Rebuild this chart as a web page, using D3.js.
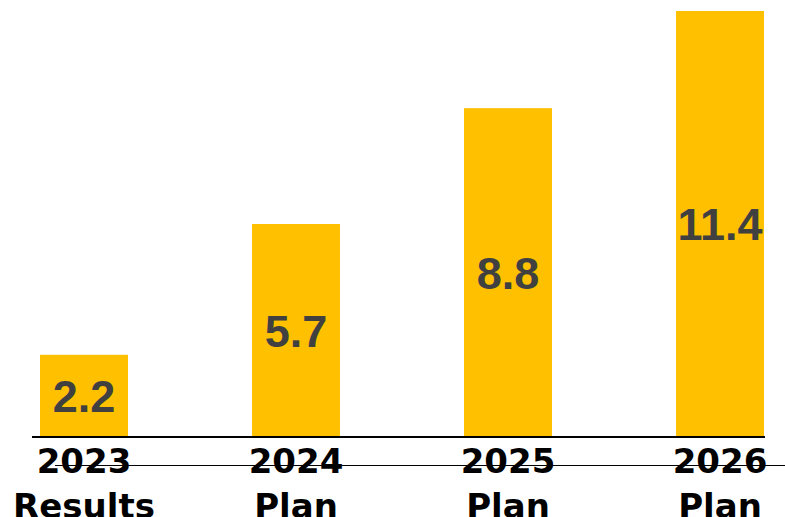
<!DOCTYPE html>
<html>
<head>
<meta charset="utf-8">
<script src="https://d3js.org/d3.v7.min.js"></script>
<style>
body { margin: 0; background: #fff; }
svg { display: block; }
</style>
</head>
<body>
<svg id="svg" width="785" height="517"></svg>
<script>
// chart data
let years = ["2023", "2024", "2025", "2026"];
let kinds = ["Results", "Plan", "Plan", "Plan"];
let values = [2.2, 5.7, 8.8, 11.4];

let barColor = "#FFC000";
let baseY = 437;

let svg = d3.select("#svg");

let x = d3.scaleBand()
  .domain(years)
  .range([40, 764])
  .paddingInner(0.585)
  .paddingOuter(0);

let y = d3.scaleLinear()
  .domain([0, 11.4])
  .range([baseY, 11]);

let data = years.map(function(d, i) {
  return { year: d, kind: kinds[i], value: values[i] };
});

// bars
svg.selectAll(".bar")
  .data(data)
  .enter().append("rect")
  .attr("class", "bar")
  .attr("x", function(d) { return x(d.year); })
  .attr("y", function(d) { return y(d.value); })
  .attr("width", x.bandwidth())
  .attr("height", function(d) { return baseY - y(d.value); })
  .attr("fill", barColor);

// value labels, centred inside each bar
svg.selectAll(".val")
  .data(data)
  .enter().append("text")
  .attr("class", "val")
  .attr("x", function(d) { return x(d.year) + x.bandwidth() / 2; })
  .attr("y", function(d) { return (y(d.value) + baseY) / 2 + 16; })
  .attr("text-anchor", "middle")
  .attr("font-family", "'Liberation Sans', Arial, sans-serif")
  .attr("font-weight", "bold")
  .attr("font-size", "45px")
  .attr("fill", "#404040")
  .text(function(d) { return d.value.toFixed(1); });

// baseline
svg.append("line")
  .attr("x1", 32).attr("x2", 765)
  .attr("y1", baseY).attr("y2", baseY)
  .attr("stroke", "#000")
  .attr("stroke-width", 2);

// category labels
let cat = svg.selectAll(".cat")
  .data(data)
  .enter().append("text")
  .attr("class", "cat")
  .attr("text-anchor", "middle")
  .attr("font-family", "'DejaVu Sans', Verdana, sans-serif")
  .attr("font-weight", "bold")
  .attr("font-size", "34px")
  .attr("fill", "#000");

cat.append("tspan")
  .attr("x", function(d) { return x(d.year) + x.bandwidth() / 2; })
  .attr("y", 473)
  .text(function(d) { return d.year; });

cat.append("tspan")
  .attr("x", function(d) { return x(d.year) + x.bandwidth() / 2; })
  .attr("y", 518)
  .text(function(d) { return d.kind; });

// thin line across the year labels
svg.append("line")
  .attr("x1", 55).attr("x2", 785)
  .attr("y1", 465.5).attr("y2", 465.5)
  .attr("stroke", "#000")
  .attr("stroke-width", 1);
</script>
</body>
</html>
